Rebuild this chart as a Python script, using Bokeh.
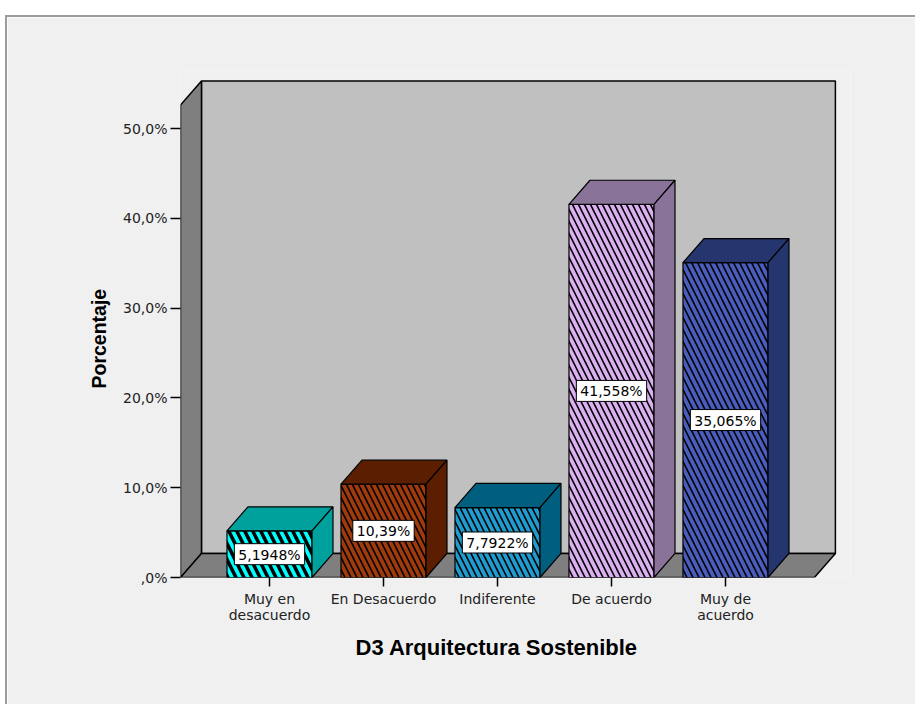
from bokeh.plotting import figure
from bokeh.models import ColumnDataSource, FixedTicker, Range1d, Title
from bokeh.core.properties import value
from bokeh.embed import file_html
from bokeh.resources import INLINE

# ---- data -------------------------------------------------------------
categories = ["Muy en\ndesacuerdo", "En Desacuerdo", "Indiferente", "De acuerdo", "Muy de\nacuerdo"]
percentages = [5.1948, 10.39, 7.7922, 41.558, 35.065]
value_labels = ["5,1948%", "10,39%", "7,7922%", "41,558%", "35,065%"]
y_ticks = [0, 10, 20, 30, 40, 50]
y_tick_labels = [",0%", "10,0%", "20,0%", "30,0%", "40,0%", "50,0%"]

# ---- styling ----------------------------------------------------------
front_colors = ["#00FFFF", "#9E3A0C", "#1F9BCF", "#DAB0F0", "#4A5CBC"]
shade_colors = ["#00A19C", "#5C1E00", "#005F7F", "#8A7399", "#25356D"]
hatch_scales = [16, 12, 12, 12, 12]
hatch_weights = [3.5, 1.6, 1.6, 1.6, 1.6]

# 3D box geometry (data units)
HALF = 0.373          # half bar width
DX, DY = 0.184, 2.68  # depth offset
X_LEFT, X_RIGHT = 0.2193, 5.78
WALL_TOP = 52.62

positions = [i + 1 for i in range(len(categories))]

p = figure(width=910, height=689, output_backend="svg", toolbar_location=None,
           x_range=Range1d(0.2193, 6.0965), y_range=Range1d(0, 56.46),
           min_border_left=173, min_border_right=67, min_border_top=53, min_border_bottom=129)
p.margin = (15, 0, 0, 5)
p.styles = {"border-top": "2px solid #9C9C9C", "border-left": "2px solid #9C9C9C"}
p.background_fill_color = "#F0F0F0"
p.border_fill_color = "#F0F0F0"
p.outline_line_color = None
p.xgrid.visible = False
p.ygrid.visible = False

# walls and floor
p.patch([X_LEFT + DX, X_RIGHT + DX, X_RIGHT + DX, X_LEFT + DX],
        [DY, DY, WALL_TOP + DY, WALL_TOP + DY],
        fill_color="#C0C0C0", line_color="black", line_width=1.5)
p.patch([X_LEFT, X_LEFT + DX, X_LEFT + DX, X_LEFT],
        [0, DY, WALL_TOP + DY, WALL_TOP],
        fill_color="#7F7F7F", line_color="black", line_width=1.5)
p.patch([X_LEFT, X_RIGHT, X_RIGHT + DX, X_LEFT + DX],
        [0, 0, DY, DY],
        fill_color="#7F7F7F", line_color="black", line_width=1.5)

# bars: front faces
front = ColumnDataSource(dict(
    left=[x - HALF for x in positions], right=[x + HALF for x in positions],
    bottom=[0] * len(positions), top=percentages,
    color=front_colors, hscale=hatch_scales, hweight=hatch_weights))
p.quad(left="left", right="right", bottom="bottom", top="top", source=front,
       fill_color="color", hatch_pattern="\\", hatch_color="black",
       hatch_scale="hscale", hatch_weight="hweight",
       line_color="black", line_width=1.2)

# bars: top and side faces
tops_x, tops_y, sides_x, sides_y = [], [], [], []
for x, v in zip(positions, percentages):
    l, r = x - HALF, x + HALF
    tops_x.append([l, r, r + DX, l + DX])
    tops_y.append([v, v, v + DY, v + DY])
    sides_x.append([r, r + DX, r + DX, r])
    sides_y.append([0, DY, v + DY, v])
p.patches(tops_x, tops_y, fill_color=shade_colors, line_color="black", line_width=1.2)
p.patches(sides_x, sides_y, fill_color=shade_colors, line_color="black", line_width=1.2)

# value labels in the middle of each bar
lab_src = ColumnDataSource(dict(x=positions, y=[v / 2 for v in percentages], text=value_labels))
p.text(x="x", y="y", text="text", source=lab_src,
       text_align="center", text_baseline="middle",
       text_font=value("DejaVu Sans"), text_font_size="14px", text_color="black",
       background_fill_color="white", border_line_color="black",
       border_line_width=1, padding=dict(left=4, right=4, top=3, bottom=2))

# axes
ya = p.yaxis[0]
ya.ticker = FixedTicker(ticks=y_ticks)
ya.major_label_overrides = {t: s for t, s in zip(y_ticks, y_tick_labels)}
ya.axis_line_color = None
ya.major_tick_line_color = "black"
ya.major_tick_line_width = 1.5
ya.major_tick_out = 10
ya.major_tick_in = 0
ya.minor_tick_line_color = None
ya.major_label_standoff = 3
ya.major_label_text_font = "DejaVu Sans"
ya.major_label_text_font_size = "14px"
ya.major_label_text_color = "#222222"

xa = p.xaxis[0]
xa.ticker = FixedTicker(ticks=positions)
xa.major_label_overrides = {x: c for x, c in zip(positions, categories)}
xa.axis_line_color = None
xa.major_tick_line_color = "black"
xa.major_tick_line_width = 1.5
xa.major_tick_out = 9
xa.major_tick_in = 0
xa.minor_tick_line_color = None
xa.major_label_standoff = 4
xa.major_label_text_font = "DejaVu Sans"
xa.major_label_text_font_size = "14px"
xa.major_label_text_line_height = 1.0
xa.major_label_text_color = "#222222"

# axis titles
p.add_layout(Title(text="D3 Arquitectura Sostenible", align="left", offset=175,
                   standoff=14, text_font="Liberation Sans", text_font_style="bold",
                   text_font_size="22px", text_color="black"), "below")
p.add_layout(Title(text="Porcentaje", align="left", offset=189,
                   standoff=22, text_font="Liberation Sans", text_font_style="bold",
                   text_font_size="19.5px", text_color="black"), "left")

open("out.html", "w").write(file_html(p, INLINE))
